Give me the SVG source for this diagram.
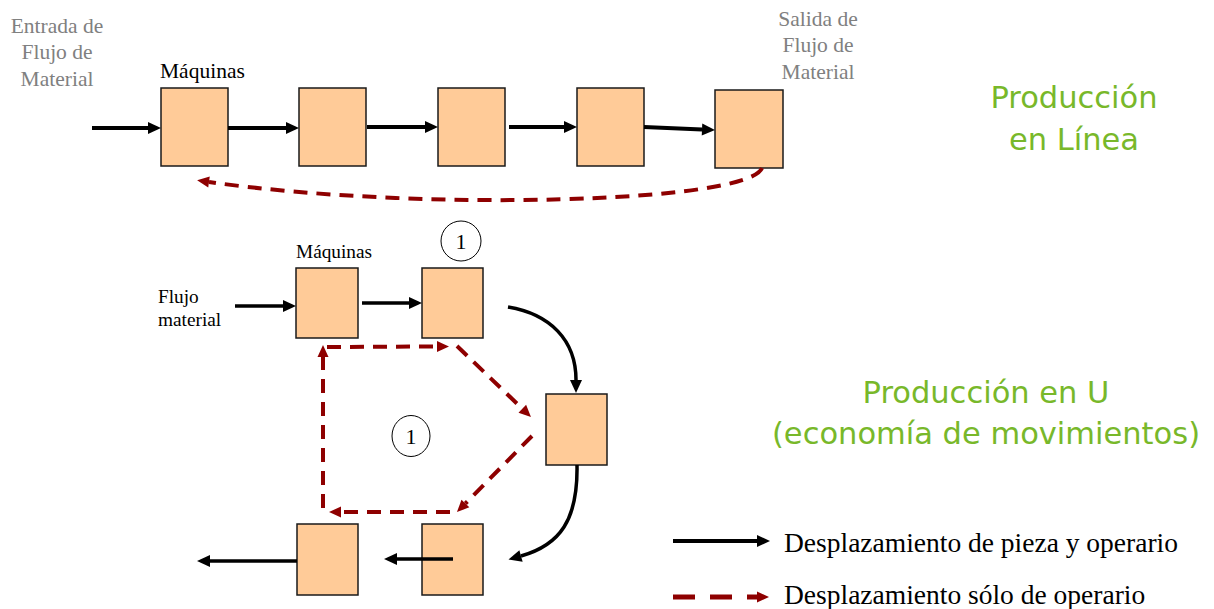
<svg xmlns="http://www.w3.org/2000/svg" width="1214" height="609" viewBox="0 0 1214 609">
<style>
.box{fill:#FFCB98;stroke:#1a1a1a;stroke-width:1.5}
.gray{font-family:"Liberation Serif",serif;font-size:21.5px;fill:#808080;text-anchor:middle}
.lbl{font-family:"Liberation Serif",serif;fill:#000}
.green{font-family:"DejaVu Sans",sans-serif;font-size:30.5px;fill:#78B82A;text-anchor:middle}
.blk{fill:none;stroke:#000;stroke-width:3.5}
.blkT{fill:none;stroke:#000;stroke-width:4}
.red{fill:none;stroke:#8E0000;stroke-width:4;stroke-dasharray:14 9}
.circ{fill:#fff;stroke:#000;stroke-width:1}
</style>
<defs>
<marker id="ab" markerUnits="userSpaceOnUse" markerWidth="14" markerHeight="12" refX="0" refY="6" orient="auto" overflow="visible">
<path d="M0,0 L13,6 L0,12 z" fill="#000"/>
</marker>
<marker id="ar" markerUnits="userSpaceOnUse" markerWidth="13" markerHeight="12" refX="0" refY="5.5" orient="auto" overflow="visible">
<path d="M0,0 L12,5.5 L0,11 z" fill="#8E0000"/>
</marker>
</defs>

<!-- Top section texts -->
<g id="entrada">
<text class="gray" x="57" y="33">Entrada de</text>
<text class="gray" x="57" y="59">Flujo de</text>
<text class="gray" x="57" y="86">Material</text>
</g>
<g id="salida">
<text class="gray" x="818" y="26">Salida de</text>
<text class="gray" x="818" y="52">Flujo de</text>
<text class="gray" x="818" y="79">Material</text>
</g>
<text class="lbl" x="160" y="78" font-size="21.5">Máquinas</text>

<g id="produccion-linea">
<text class="green" x="1074" y="108">Producción</text>
<text class="green" x="1074" y="150">en Línea</text>
</g>
<g id="produccion-u">
<text class="green" x="986" y="403">Producción en U</text>
<text class="green" x="986" y="444">(economía de movimientos)</text>
</g>

<!-- Top row machines -->
<g id="m1"><rect class="box" x="161" y="88" width="67" height="78"/></g>
<g id="m2"><rect class="box" x="299" y="88" width="67" height="78"/></g>
<g id="m3"><rect class="box" x="438" y="88" width="67" height="78"/></g>
<g id="m4"><rect class="box" x="577" y="88" width="67" height="78"/></g>
<g id="m5"><rect class="box" x="715" y="90" width="68" height="78"/></g>

<!-- Bottom U machines -->
<g id="uA"><rect class="box" x="296" y="268" width="62" height="70"/></g>
<g id="uB"><rect class="box" x="422" y="268" width="61" height="70"/></g>
<g id="uC"><rect class="box" x="546" y="394" width="61" height="71"/></g>
<g id="uD"><rect class="box" x="422" y="524" width="61" height="71"/></g>
<g id="uE"><rect class="box" x="297" y="524" width="61" height="71"/></g>

<g id="bottom-labels">
<text class="lbl" x="296" y="258" font-size="19.3">Máquinas</text>
<text class="lbl" x="158" y="303" font-size="19.3">Flujo</text>
<text class="lbl" x="158" y="326" font-size="19.3">material</text>
</g>

<g id="circle1-top">
<circle class="circ" cx="461" cy="241" r="20"/>
<text class="lbl" x="461" y="249" font-size="22" text-anchor="middle">1</text>
</g>
<g id="circle1-mid">
<ellipse class="circ" cx="411" cy="436" rx="19" ry="20.5"/>
<text class="lbl" x="411" y="444" font-size="22" text-anchor="middle">1</text>
</g>

<!-- Connectors -->
<g id="connectors">
<path class="blkT" d="M92 128 L148 128" marker-end="url(#ab)"/>
<path class="blkT" d="M228 128 L286 128" marker-end="url(#ab)"/>
<path class="blkT" d="M367 127 L425 127" marker-end="url(#ab)"/>
<path class="blkT" d="M509 127 L564 127" marker-end="url(#ab)"/>
<path class="blkT" d="M644 127 L702 129.4" marker-end="url(#ab)"/>
<path class="red" d="M762 168 C748 203, 420 212, 209 182" marker-end="url(#ar)"/>

<path class="blk" d="M235 306 L283 306" marker-end="url(#ab)"/>
<path class="blk" d="M362 303 L409 303" marker-end="url(#ab)"/>
<path class="blk" d="M508 307 C550 314, 576 340, 576 380" marker-end="url(#ab)"/>
<path class="blk" d="M577 465 C578 520, 560 545, 521 556" marker-end="url(#ab)"/>
<path class="blk" d="M453 559 L397 559" marker-end="url(#ab)"/>
<path class="blk" d="M297 561 L210 561" marker-end="url(#ab)"/>

<path class="red" d="M323 508 L323 357" marker-end="url(#ar)"/>
<path class="red" d="M327 347 L437 346.5" marker-end="url(#ar)"/>
<path class="red" d="M457 346 L522.3 408.7" marker-end="url(#ar)"/>
<path class="red" d="M532 436 L465.4 503.5" marker-end="url(#ar)"/>
<path class="red" d="M450 512 L341 512" marker-end="url(#ar)"/>
</g>

<!-- Legend -->
<g id="legend">
<path d="M673 541 L757 541" fill="none" stroke="#000" stroke-width="4" marker-end="url(#ab)"/>
<text class="lbl" x="784" y="552" font-size="27.5">Desplazamiento de pieza y operario</text>
<path d="M673 597 L757 597" fill="none" stroke="#8E0000" stroke-width="5" stroke-dasharray="22 15" marker-end="url(#ar)"/>
<text class="lbl" x="784" y="604" font-size="27.5">Desplazamiento sólo de operario</text>
</g>
</svg>
